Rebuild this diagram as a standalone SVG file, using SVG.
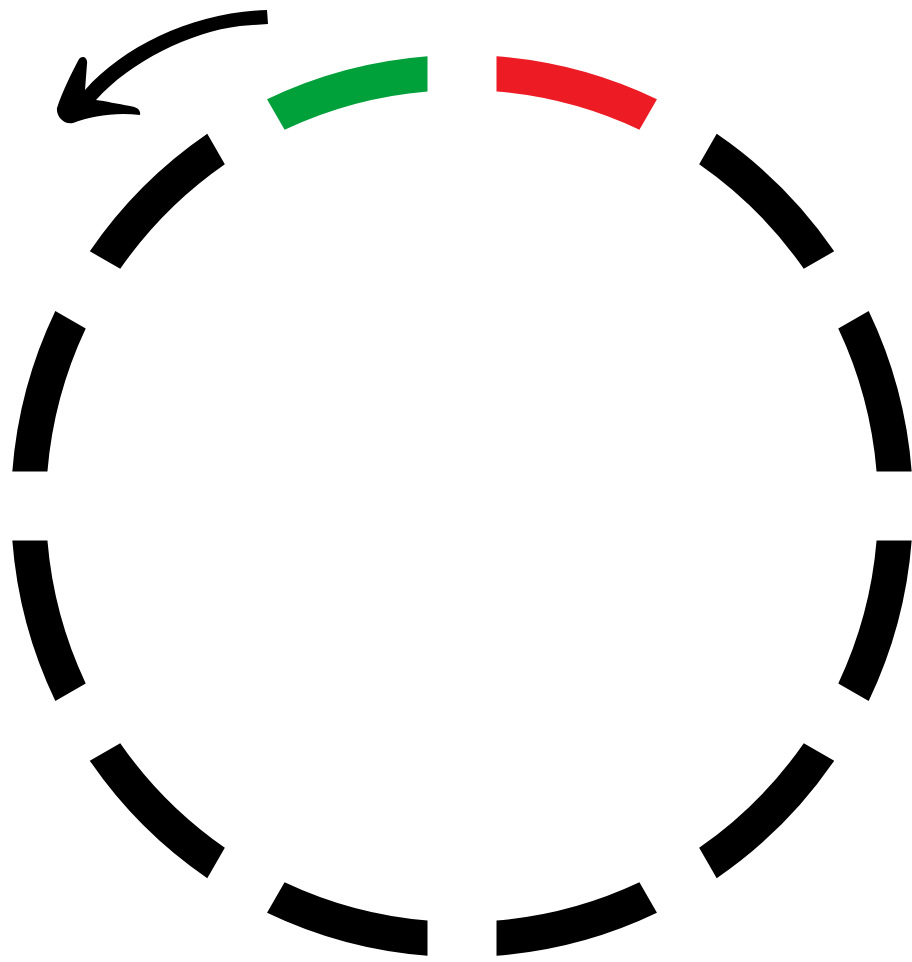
<svg xmlns="http://www.w3.org/2000/svg" width="912" height="962" viewBox="0 0 912 962">
<style>
.seg{fill:#000;stroke:none}
.green{fill:#00A03A}
.red{fill:#ED1C24}
</style>
<rect width="912" height="962" fill="#fff"/>
<g id="ring" transform="translate(462,506)">
<path id="seg-red" class="seg red" d="M34.5,-449.68 A451,451 0 0 1 194.96,-406.69 L177.41,-376.28 A416,416 0 0 0 34.5,-414.57 Z"/>
<path id="seg-2" class="seg" d="M254.72,-372.19 A451,451 0 0 1 372.19,-254.72 L341.78,-237.17 A416,416 0 0 0 237.17,-341.78 Z"/>
<path id="seg-3" class="seg" d="M406.69,-194.96 A451,451 0 0 1 449.68,-34.5 L414.57,-34.5 A416,416 0 0 0 376.28,-177.41 Z"/>
<path id="seg-4" class="seg" d="M449.68,34.5 A451,451 0 0 1 406.69,194.96 L376.28,177.41 A416,416 0 0 0 414.57,34.5 Z"/>
<path id="seg-5" class="seg" d="M372.19,254.72 A451,451 0 0 1 254.72,372.19 L237.17,341.78 A416,416 0 0 0 341.78,237.17 Z"/>
<path id="seg-6" class="seg" d="M194.96,406.69 A451,451 0 0 1 34.5,449.68 L34.5,414.57 A416,416 0 0 0 177.41,376.28 Z"/>
<path id="seg-7" class="seg" d="M-34.5,449.68 A451,451 0 0 1 -194.96,406.69 L-177.41,376.28 A416,416 0 0 0 -34.5,414.57 Z"/>
<path id="seg-8" class="seg" d="M-254.72,372.19 A451,451 0 0 1 -372.19,254.72 L-341.78,237.17 A416,416 0 0 0 -237.17,341.78 Z"/>
<path id="seg-9" class="seg" d="M-406.69,194.96 A451,451 0 0 1 -449.68,34.5 L-414.57,34.5 A416,416 0 0 0 -376.28,177.41 Z"/>
<path id="seg-10" class="seg" d="M-449.68,-34.5 A451,451 0 0 1 -406.69,-194.96 L-376.28,-177.41 A416,416 0 0 0 -414.57,-34.5 Z"/>
<path id="seg-11" class="seg" d="M-372.19,-254.72 A451,451 0 0 1 -254.72,-372.19 L-237.17,-341.78 A416,416 0 0 0 -341.78,-237.17 Z"/>
<path id="seg-green" class="seg green" d="M-194.96,-406.69 A451,451 0 0 1 -34.5,-449.68 L-34.5,-414.57 A416,416 0 0 0 -177.41,-376.28 Z"/>
</g>
<g id="arrow">
<path fill="#000" d="M267,10 C195,12 125,45 85,90 L87,64 C88,57 82,55 79,59 C72,72 62,92 57,108 C56,116 64,125 73,123 C92,116 115,112 140,115 C141,110 137,107 130,106 C118,104 105,101 96,100 C130,62 190,32 240,26 L268,24 Z"/>
</g>
</svg>
